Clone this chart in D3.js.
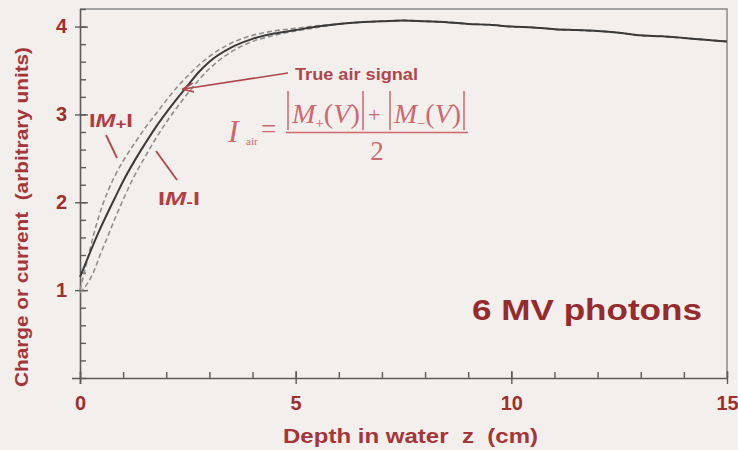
<!DOCTYPE html>
<html>
<head>
<meta charset="utf-8">
<script src="https://cdn.jsdelivr.net/npm/d3@7/dist/d3.min.js"></script>
<style>
html,body{margin:0;padding:0;background:#f3efec;}
svg{display:block;}
text{white-space:pre;}
</style>
</head>
<body>
<svg id="chart" width="738" height="450"></svg>
<script>
// ---- data ----
const depth = [0, 0.15, 0.3, 0.45, 0.65, 0.85, 1, 1.25, 1.5, 1.75, 2, 2.25, 2.5, 2.75, 3, 3.5, 4, 4.5, 5, 5.5, 6, 6.5, 7, 7.5, 8, 8.5, 9, 9.5, 10, 10.5, 11, 11.5, 12, 12.5, 13, 13.5, 14, 14.5, 15];
const trueSignal = [1.15, 1.33, 1.51, 1.68, 1.89, 2.09, 2.24, 2.46, 2.66, 2.85, 3.02, 3.18, 3.33, 3.48, 3.60, 3.76, 3.86, 3.92, 3.96, 4.00, 4.03, 4.05, 4.06, 4.07, 4.06, 4.05, 4.03, 4.02, 4.00, 3.99, 3.97, 3.96, 3.95, 3.93, 3.90, 3.89, 3.87, 3.85, 3.83];
const mPlus = [1.00, 1.30, 1.60, 1.86, 2.13, 2.34, 2.47, 2.66, 2.84, 3.00, 3.16, 3.31, 3.44, 3.56, 3.66, 3.81, 3.90, 3.95, 3.98, 4.01, 4.03, 4.05, 4.06, 4.07, 4.06, 4.05, 4.03, 4.02, 4.00, 3.99, 3.97, 3.96, 3.95, 3.93, 3.90, 3.89, 3.87, 3.85, 3.83];
const mMinus = [0.97, 1.06, 1.19, 1.38, 1.62, 1.86, 2.03, 2.29, 2.51, 2.72, 2.91, 3.08, 3.24, 3.39, 3.52, 3.71, 3.83, 3.90, 3.95, 3.99, 4.03, 4.05, 4.06, 4.07, 4.06, 4.05, 4.03, 4.02, 4.00, 3.99, 3.97, 3.96, 3.95, 3.93, 3.90, 3.89, 3.87, 3.85, 3.83];
const xTicks = [0, 5, 10, 15];
const yTicks = [1, 2, 3, 4];
const xTitle = "Depth in water  z  (cm)";
const yTitle = "Charge or current  (arbitrary units)";
const beamLabel = "6 MV photons";
const trueLabel = "True air signal";

// ---- layout ----
const svg = d3.select("#chart");
const pL = 80, pR = 727, pT = 9, pB = 378;
const x = d3.scaleLinear().domain([0, 15]).range([pL, pR]);
const y = d3.scaleLinear().domain([0, 4.2]).range([pB, pT]);

const red = "#9e2f2c";
const axisCol = "#5c5c5c";
const sans = "Liberation Sans, Arial, sans-serif";

// frame (top & right)
svg.append("path")
  .attr("d", `M${pL},${pT}H${pR}V${pB}`)
  .attr("fill", "none").attr("stroke", "#8a8a8a").attr("stroke-width", 1.5);

// x axis
const gxm = svg.append("g").attr("transform", `translate(0,${pB})`)
  .call(d3.axisTop(x).tickValues(d3.range(0, 16, 1)).tickSize(6).tickFormat(""));
gxm.select(".domain").remove();
const gx = svg.append("g").attr("transform", `translate(0,${pB})`)
  .call(d3.axisBottom(x).tickValues(xTicks).tickSize(6).tickPadding(12).tickFormat(d3.format("d")));
gx.selectAll(".tick line").attr("y1", -7);
gx.select(".domain").attr("d", `M${pL-8},0.5H${pR}`);

// y axis
const gym = svg.append("g").attr("transform", `translate(${pL},0)`)
  .call(d3.axisRight(y).tickValues(d3.range(0, 4.21, 0.2)).tickSize(6).tickFormat(""));
gym.select(".domain").remove();
const gy = svg.append("g").attr("transform", `translate(${pL},0)`)
  .call(d3.axisLeft(y).tickValues(yTicks).tickSize(5).tickPadding(8).tickFormat(d3.format("d")));
gy.selectAll(".tick line").attr("x1", 8);
gy.select(".domain").attr("d", `M0.5,${pT}V${pB+6}`);

[gx, gy, gxm, gym].forEach(g => {
  g.selectAll(".domain").attr("stroke", axisCol).attr("stroke-width", 1.6);
  g.selectAll(".tick line").attr("stroke", axisCol).attr("stroke-width", 1.4);
  g.selectAll("text").attr("fill", red).attr("font-family", sans)
    .attr("font-weight", "bold").attr("font-size", 20);
});

// axis titles
svg.append("text").attr("x", 283).attr("y", 443)
  .attr("fill", "#a5353a")
  .attr("font-family", sans).attr("font-weight", "bold").attr("font-size", 20)
  .attr("textLength", 255).attr("lengthAdjust", "spacingAndGlyphs")
  .text(xTitle);
svg.append("text").attr("transform", `translate(28,387) rotate(-90)`)
  .attr("fill", "#a5353a")
  .attr("font-family", sans).attr("font-weight", "bold").attr("font-size", 18)
  .attr("textLength", 340).attr("lengthAdjust", "spacingAndGlyphs")
  .text(yTitle);

// curves
const rows = depth.map((d, i) => ({z: d, t: trueSignal[i], p: mPlus[i], m: mMinus[i]}));
const lineOf = key => d3.line().x(d => x(d.z)).y(d => y(d[key])).curve(d3.curveMonotoneX);
svg.append("path").datum(rows).attr("d", lineOf("p"))
  .attr("fill", "none").attr("stroke", "#8f8f8f").attr("stroke-width", 1.6).attr("stroke-dasharray", "5,3");
svg.append("path").datum(rows).attr("d", lineOf("m"))
  .attr("fill", "none").attr("stroke", "#8f8f8f").attr("stroke-width", 1.6).attr("stroke-dasharray", "5,3");
svg.append("path").datum(rows).attr("d", lineOf("t"))
  .attr("fill", "none").attr("stroke", "#3a3a3a").attr("stroke-width", 2);

// annotations
const annCol = "#b0454c";
svg.append("defs").append("marker").attr("id", "ah").attr("viewBox", "0 0 10 10")
  .attr("refX", 9).attr("refY", 5).attr("markerWidth", 7).attr("markerHeight", 7).attr("orient", "auto")
  .append("path").attr("d", "M0,1L10,5L0,9").attr("fill", "none").attr("stroke", annCol).attr("stroke-width", 1.5);
svg.append("line").attr("x1", 288).attr("y1", 73).attr("x2", x(2.4)).attr("y2", y(3.3) + 1)
  .attr("stroke", annCol).attr("stroke-width", 1.6).attr("marker-end", "url(#ah)");
svg.append("text").attr("x", 295).attr("y", 79.5).attr("fill", annCol)
  .attr("font-family", sans).attr("font-weight", "bold").attr("font-size", 16)
  .attr("textLength", 123).attr("lengthAdjust", "spacingAndGlyphs").text(trueLabel);

// |M+| label
const tp = svg.append("text").attr("x", 89).attr("y", 127).attr("fill", "#b23e44")
  .attr("font-family", sans).attr("font-weight", "bold").attr("font-size", 19)
  .attr("textLength", 44).attr("lengthAdjust", "spacingAndGlyphs");
tp.append("tspan").text("I");
tp.append("tspan").attr("font-style", "italic").text("M");
tp.append("tspan").attr("font-size", 15).attr("dy", 2).text("+");
tp.append("tspan").attr("dy", -2).text("I");
svg.append("line").attr("x1", 106).attr("y1", 135).attr("x2", 117).attr("y2", 158)
  .attr("stroke", annCol).attr("stroke-width", 1.8);

// |M-| label
const tm = svg.append("text").attr("x", 158).attr("y", 205).attr("fill", "#b23e44")
  .attr("font-family", sans).attr("font-weight", "bold").attr("font-size", 19)
  .attr("textLength", 42).attr("lengthAdjust", "spacingAndGlyphs");
tm.append("tspan").text("I");
tm.append("tspan").attr("font-style", "italic").text("M");
tm.append("tspan").attr("font-size", 15).attr("dy", 2).text("-");
tm.append("tspan").attr("dy", -2).text("I");
svg.append("line").attr("x1", 156).attr("y1", 151).attr("x2", 177).attr("y2", 180)
  .attr("stroke", annCol).attr("stroke-width", 1.8);

// formula
const fCol = "#cf6670";
const serif = "Liberation Serif, Times New Roman, serif";
svg.append("text").attr("x", 228).attr("y", 142).attr("fill", fCol)
  .attr("font-family", serif).attr("font-style", "italic").attr("font-size", 32).text("I");
svg.append("text").attr("x", 246).attr("y", 145).attr("fill", fCol)
  .attr("font-family", serif).attr("font-size", 11).text("air");
svg.append("text").attr("x", 261).attr("y", 138).attr("fill", fCol)
  .attr("font-family", serif).attr("font-size", 27).text("=");
function term(x0, w, sub) {
  const t = svg.append("text").attr("x", x0).attr("y", 123).attr("fill", fCol)
    .attr("font-family", serif).attr("font-size", 27)
    .attr("textLength", w).attr("lengthAdjust", "spacingAndGlyphs");
  t.append("tspan").attr("font-style", "italic").text("M");
  t.append("tspan").attr("font-size", 14).attr("dy", 5).text(sub);
  t.append("tspan").attr("dy", -5).text("(");
  t.append("tspan").attr("font-style", "italic").text("V");
  t.append("tspan").text(")");
}
term(292, 68, "+");
term(394, 67, "\u2212");
[288, 363, 390, 464].forEach(bx => {
  svg.append("line").attr("x1", bx).attr("x2", bx).attr("y1", 91).attr("y2", 130)
    .attr("stroke", fCol).attr("stroke-width", 1.5);
});
svg.append("text").attr("x", 368).attr("y", 122).attr("fill", fCol)
  .attr("font-family", serif).attr("font-size", 22).text("+");
svg.append("line").attr("x1", 286).attr("x2", 468).attr("y1", 132.5).attr("y2", 132.5)
  .attr("stroke", fCol).attr("stroke-width", 1.5);
svg.append("text").attr("x", 377).attr("y", 160).attr("text-anchor", "middle").attr("fill", fCol)
  .attr("font-family", serif).attr("font-size", 27).text("2");

// beam label
svg.append("text").attr("x", 472).attr("y", 320).attr("fill", "#962a2c")
  .attr("font-family", sans).attr("font-weight", "bold").attr("font-size", 29)
  .attr("textLength", 230).attr("lengthAdjust", "spacingAndGlyphs").text(beamLabel);
</script>
</body>
</html>
